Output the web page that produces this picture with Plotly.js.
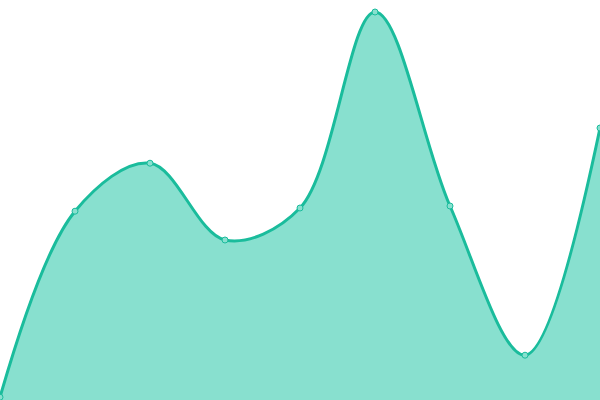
<!DOCTYPE html>
<html>
<head>
<meta charset="utf-8">
<script src="https://cdn.plot.ly/plotly-3.0.1.min.js"></script>
<style>
  html, body { margin: 0; padding: 0; background: #fff; }
  #chart { width: 600px; height: 400px; }
</style>
</head>
<body>
<div id="chart"></div>
<script>
// values
const xs = [0, 1, 2, 3, 4, 5, 6, 7, 8];
const ys = [0.7, 47.2, 59.2, 40, 48, 97, 48.5, 11.2, 68];

Plotly.newPlot('chart', [{
  x: xs,
  y: ys,
  type: 'scatter',
  mode: 'lines+markers',
  fill: 'tozeroy',
  fillcolor: '#88e0cf',
  line: { shape: 'spline', smoothing: 1, color: '#1abc9c', width: 3 },
  marker: { size: 6, color: '#88e0cf', line: { color: '#1abc9c', width: 1 } },
  cliponaxis: false
}], {
  width: 600,
  height: 400,
  margin: { l: 0, r: 0, t: 0, b: 0 },
  paper_bgcolor: '#fff',
  plot_bgcolor: '#fff',
  showlegend: false,
  xaxis: { range: [0, 8], visible: false, fixedrange: true },
  yaxis: { range: [0, 100], visible: false, fixedrange: true }
}, { displayModeBar: false, staticPlot: true });
</script>
</body>
</html>
